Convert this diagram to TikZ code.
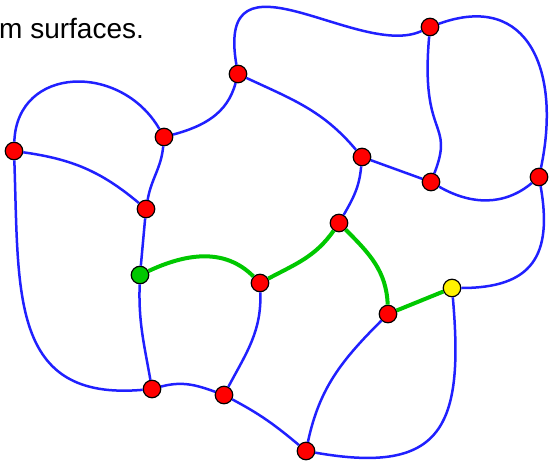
\documentclass[tikz,border=0pt]{standalone}
\usepackage{fontspec}
\setmainfont{Liberation Sans}
\definecolor{edgeblue}{RGB}{32,32,255}
\definecolor{pathgreen}{RGB}{0,200,0}

\begin{document}
\begin{tikzpicture}[x=1pt, y=1pt,
    vert/.style={draw, circle, line width=1.2pt, fill=red, minimum size=17.5pt, inner sep=0pt},
    edge/.style={draw=edgeblue, line width=2.5pt},
    route/.style={draw=pathgreen, line width=4pt}]
  \useasboundingbox (0,0) rectangle (557,-461);
  \node[anchor=base west, inner sep=0pt, font=\fontsize{28}{33}\selectfont] (caption) at (-1,-38) {m surfaces.};
  % vertices
  \node[vert] (v1) at (14,-151) {};
  \node[vert] (v2) at (164,-137) {};
  \node[vert] (v3) at (238,-74) {};
  \node[vert] (v4) at (430,-27) {};
  \node[vert] (v5) at (362,-157) {};
  \node[vert] (v6) at (431,-182) {};
  \node[vert] (v7) at (539,-177) {};
  \node[vert] (v8) at (146,-209) {};
  \node[vert] (v9) at (339,-223) {};
  \node[vert, fill=pathgreen] (v10) at (140,-275) {};
  \node[vert] (v11) at (260,-283) {};
  \node[vert, fill=yellow] (v12) at (452,-288) {};
  \node[vert] (v13) at (388,-314) {};
  \node[vert] (v14) at (152,-389) {};
  \node[vert] (v15) at (224,-395) {};
  \node[vert] (v16) at (306,-451) {};
  % blue edges
  \draw[edge] (v1) to[out=88, in=120, looseness=1.35] (v2);
  \draw[edge] (v1) to[out=-8, in=140] (v8);
  \draw[edge] (v1) to[out=-88, in=185, looseness=1.3] (v14);
  \draw[edge] (v2) to[out=-95, in=80] (v8);
  \draw[edge] (v2) to[out=15, in=-105] (v3);
  \draw[edge] (v3) .. controls +(-23,134) and +(-70,-33) .. (v4);
  \draw[edge] (v3) to[out=-25, in=130] (v5);
  \draw[edge] (v4) .. controls +(-10,-113) and +(24,62) .. (v6);
  \draw[edge] (v4) to[out=20, in=78, looseness=1.4] (v7);
  \draw[edge] (v5) -- (v6);
  \draw[edge] (v6) to[out=-30, in=-140] (v7);
  \draw[edge] (v5) to[out=-95, in=60] (v9);
  \draw[edge] (v7) to[out=-80, in=0, looseness=1.4] (v12);
  \draw[edge] (v8) -- (v10);
  \draw[edge] (v10) to[out=-92, in=100] (v14);
  \draw[edge] (v11) to[out=-88, in=62] (v15);
  \draw[edge] (v14) to[out=15, in=160] (v15);
  \draw[edge] (v15) to[out=-28, in=140] (v16);
  \draw[edge] (v13) to[out=-135, in=78] (v16);
  \draw[edge] (v12) to[out=-85, in=-10, looseness=1.6] (v16);
  % green route
  \draw[route] (v10) to[out=25, in=135] (v11);
  \draw[route] (v11) to[out=28, in=-125] (v9);
  \draw[route] (v9) to[out=-45, in=92] (v13);
  \draw[route] (v13) -- (v12);
\end{tikzpicture}
\end{document}
